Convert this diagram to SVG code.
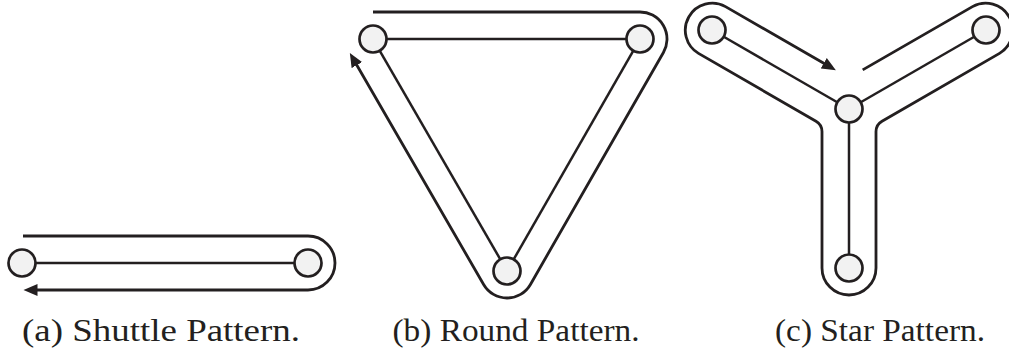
<svg xmlns="http://www.w3.org/2000/svg" width="1009" height="354" viewBox="0 0 1009 354">
<style>
.node{fill:#f2f2f2;stroke:#231f20;stroke-width:2.7}
.edge{fill:none;stroke:#231f20;stroke-width:2.5}
.route{fill:none;stroke:#231f20;stroke-width:2.8}
.lbl{font-family:"Liberation Serif","Times New Roman",serif;font-size:31px;fill:#231f20;text-anchor:middle}
</style>
<defs>
<marker id="arr" markerUnits="userSpaceOnUse" markerWidth="15" markerHeight="12" refX="0.5" refY="6" orient="auto" viewBox="0 0 15 12">
<path d="M0,0 L14,6 L0,12 z" fill="#231f20"/>
</marker>
</defs>
<g id="connectors">
<line class="edge" x1="35" y1="263" x2="295" y2="263"/>
<path class="route" d="M23,236 H308 A27,27 0 0 1 308,290 H37" marker-end="url(#arr)"/>
<line class="edge" x1="386" y1="39" x2="627" y2="39"/>
<line class="edge" x1="379.5" y1="50.3" x2="500.5" y2="259.7"/>
<line class="edge" x1="633.5" y1="50.3" x2="513.5" y2="259.7"/>
<path class="route" d="M373,12 H640 A27,27 0 0 1 663.43,52.43 L530.43,284.43 A27,27 0 0 1 483.62,284.51 L356.6,64.7" marker-end="url(#arr)"/>
<line class="edge" x1="837.7" y1="102.5" x2="723.3" y2="36.5"/>
<line class="edge" x1="860.3" y1="102.5" x2="974.7" y2="36.5"/>
<line class="edge" x1="849" y1="122" x2="849" y2="255"/>
<path class="route" d="M862.7,69.9 L972.5,6.62 A27,27 0 0 1 999.5,53.38 L882,121.2 A12,12 0 0 0 876,131.6 V268 A27,27 0 0 1 822,268 V131.6 A12,12 0 0 0 816,121.2 L698.5,53.38 A27,27 0 0 1 725.5,6.62 L824.2,63.5" marker-end="url(#arr)"/>
</g>
<g id="shuttle-left"><circle class="node" cx="22" cy="263" r="13.5"/></g>
<g id="shuttle-right"><circle class="node" cx="308" cy="263" r="13.5"/></g>
<g id="round-tl"><circle class="node" cx="373" cy="39" r="13.5"/></g>
<g id="round-tr"><circle class="node" cx="640" cy="39" r="13.5"/></g>
<g id="round-b"><circle class="node" cx="507" cy="271" r="13.5"/></g>
<g id="star-c"><circle class="node" cx="849" cy="109" r="13.5"/></g>
<g id="star-tl"><circle class="node" cx="712" cy="30" r="13.5"/></g>
<g id="star-tr"><circle class="node" cx="986" cy="30" r="13.5"/></g>
<g id="star-b"><circle class="node" cx="849" cy="268" r="13.5"/></g>
<g id="labels">
<text class="lbl" x="161" y="341" textLength="278" lengthAdjust="spacingAndGlyphs">(a) Shuttle Pattern.</text>
<text class="lbl" x="516" y="341" textLength="247" lengthAdjust="spacingAndGlyphs">(b) Round Pattern.</text>
<text class="lbl" x="880" y="341" textLength="210" lengthAdjust="spacingAndGlyphs">(c) Star Pattern.</text>
</g>
</svg>
